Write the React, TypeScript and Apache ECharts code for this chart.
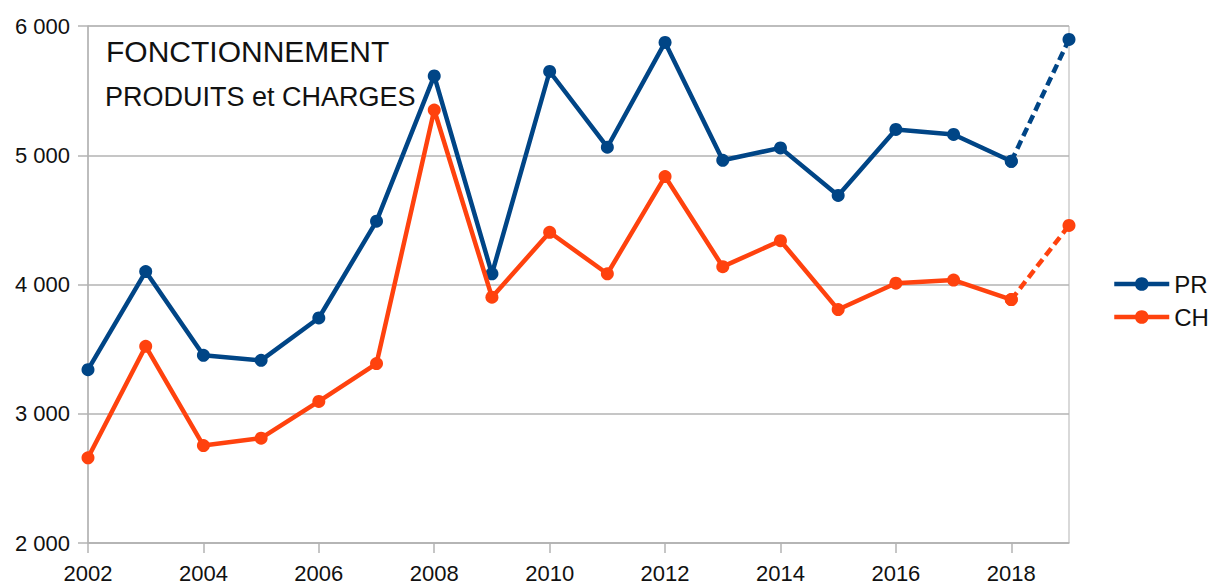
import React, { useEffect, useRef } from "react";
import * as echarts from "echarts";

const years = ["2002","2003","2004","2005","2006","2007","2008","2009","2010","2011","2012","2013","2014","2015","2016","2017","2018","2019"];
const prValues = [3341, 4100, 3452, 3413, 3741, 4490, 5614, 4083, 5648, 5062, 5873, 4961, 5057, 4689, 5200, 5161, 4953, 5896];
const chValues = [2659, 3522, 2754, 2811, 3095, 3388, 5350, 3902, 4404, 4083, 4835, 4138, 4339, 3806, 4010, 4034, 3883, 4457];
const yTicks = { min: 2000, max: 6000, interval: 1000 };
const titleMain = "FONCTIONNEMENT";
const titleSub = "PRODUITS et CHARGES";

const BLUE = "#004586";
const ORANGE = "#ff420e";
const GRID = "#b3b3b3";
const FONT = "'Liberation Sans', Arial, sans-serif";

const lastIdx = years.length - 1;
const solid = (v: number[]) => v.map((x, i) => (i < lastIdx ? x : null));
const dashed = (v: number[]) => v.map((x, i) => (i >= lastIdx - 1 ? x : null));
const fmt = (v: number) => String(v).replace(/\B(?=(\d{3})+(?!\d))/g, " ");

export default function App() {
  const ref = useRef<HTMLDivElement>(null);
  useEffect(() => {
    if (!ref.current) return;
    const chart = echarts.init(ref.current, null, { renderer: "svg" });
    const lineSeries = (name: string, data: (number | null)[], color: string, dash: boolean, z: number) => ({
      name,
      type: "line",
      data,
      symbol: "circle",
      symbolSize: 13,
      showSymbol: true,
      connectNulls: false,
      z,
      itemStyle: { color },
      lineStyle: { color, width: 4.5, type: dash ? [9, 5] : "solid" },
    });
    chart.setOption({
      animation: false,
      backgroundColor: "#ffffff",
      textStyle: { fontFamily: FONT },
      title: [
        { text: titleMain, left: 101, top: 31, textStyle: { fontSize: 30, fontWeight: "normal", color: "#111", fontFamily: FONT } },
        { text: titleSub, left: 100, top: 78, textStyle: { fontSize: 27, fontWeight: "normal", color: "#111", fontFamily: FONT } },
      ],
      legend: {
        data: ["PR", "CH"],
        orient: "vertical",
        left: 1107,
        top: 267,
        itemWidth: 55,
        itemHeight: 17,
        itemGap: 9,
        lineStyle: { width: 4.5 },
        textStyle: { fontSize: 24, color: "#111", fontFamily: FONT },
      },
      grid: {
        left: 88,
        right: 143,
        top: 26,
        bottom: 41,
        show: true,
        borderColor: GRID,
        borderWidth: 1,
      },
      xAxis: {
        type: "category",
        data: years,
        boundaryGap: false,
        axisLine: { lineStyle: { color: GRID, width: 1.5 } },
        axisTick: { show: true, interval: 1, length: 10, lineStyle: { color: GRID, width: 1.5 } },
        axisLabel: { interval: 1, fontSize: 22, color: "#111", margin: 19, fontFamily: FONT },
        splitLine: { show: false },
      },
      yAxis: {
        type: "value",
        min: yTicks.min,
        max: yTicks.max,
        interval: yTicks.interval,
        axisLine: { show: true, lineStyle: { color: GRID, width: 1.5 } },
        axisTick: { show: true, length: 10, lineStyle: { color: GRID, width: 1.5 } },
        axisLabel: { fontSize: 22, color: "#111", margin: 18, formatter: fmt, fontFamily: FONT },
        splitLine: { show: true, lineStyle: { color: GRID, width: 1.5 } },
      },
      series: [
        lineSeries("PR", solid(prValues), BLUE, false, 2),
        lineSeries("PR prévision", dashed(prValues), BLUE, true, 2),
        lineSeries("CH", solid(chValues), ORANGE, false, 3),
        lineSeries("CH prévision", dashed(chValues), ORANGE, true, 3),
      ],
    });
    return () => chart.dispose();
  }, []);
  return <div ref={ref} style={{ position: "fixed", left: 0, top: 0, width: 1212, height: 584, background: "#fff" }} />;
}
